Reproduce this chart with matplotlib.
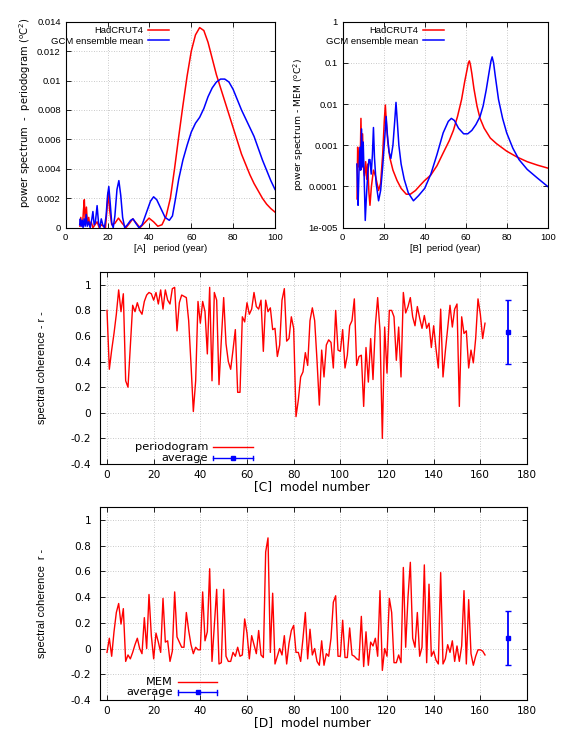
import numpy as np
import matplotlib
matplotlib.use("Agg")
import matplotlib.pyplot as plt
from matplotlib.ticker import FixedLocator, FuncFormatter, NullLocator

# ---- data ----
# [A] periodogram, period (year) vs power
hadcrut_pg_period = [6.8, 7.2, 7.6, 8.0, 8.5, 8.9, 9.3, 9.9, 10.4, 11.0, 11.5, 12.2, 13.0, 14.0,
                     15.0, 16.0, 17.0, 18.0, 19.0, 19.7, 20.3, 21.0, 22.0, 23.5, 25.2, 27.0,
                     28.8, 30.5, 32.0, 33.8, 35.5, 37.5, 39.8, 42.0, 44.0, 46.0, 48.0, 50.0,
                     52.0, 54.0, 56.0, 58.0, 60.0, 62.0, 64.0, 66.0, 68.0, 70.0, 72.0, 74.0,
                     76.0, 78.0, 80.0, 82.0, 84.0, 86.0, 88.0, 90.0, 92.0, 94.0, 96.0, 98.0, 100.0]
hadcrut_pg_power = [0.0001, 0.0007, 0.0002, 0.0001, 0.0012, 0.0019, 0.0004, 0.0014, 0.0002, 0.0007,
                    0.0001, 0.0004, 0.0000, 0.0002, 0.0004, 0.0000, 0.0002, 0.0001, 0.0000, 0.0012,
                    0.0024, 0.0012, 0.0002, 0.0003, 0.00065, 0.0003, 0.0000, 0.0003, 0.0006, 0.0003,
                    0.0000, 0.0003, 0.00065, 0.0004, 0.0001, 0.0002, 0.0008, 0.0020, 0.0040, 0.0062,
                    0.0083, 0.0103, 0.0120, 0.0131, 0.0136, 0.0134, 0.0126, 0.0115, 0.0104, 0.0095,
                    0.0086, 0.0077, 0.0068, 0.0059, 0.0050, 0.0043, 0.0036, 0.0030, 0.0025, 0.0020,
                    0.0016, 0.0013, 0.00106]
gcm_pg_period = [6.7, 7.0, 7.4, 7.9, 8.3, 8.8, 9.3, 9.8, 10.3, 11.0, 11.7, 12.5, 13.0, 13.6, 14.2,
                 15.0, 15.7, 16.3, 17.0, 17.7, 18.5, 19.3, 20.0, 20.6, 21.3, 22.0, 22.7, 23.5,
                 24.5, 25.4, 26.3, 27.2, 28.2, 29.5, 31.0, 32.2, 33.5, 35.0, 36.5, 38.5, 40.5,
                 42.0, 43.5, 45.5, 47.5, 49.5, 51.0, 52.5, 54.0, 56.0, 58.0, 60.0, 62.0, 64.0,
                 66.0, 68.0, 70.0, 72.0, 74.0, 76.0, 78.0, 80.0, 82.0, 84.0, 86.0, 88.0, 90.0,
                 92.0, 94.0, 96.0, 98.0, 100.0]
gcm_pg_power = [0.0002, 0.0006, 0.0001, 0.0005, 0.0000, 0.0006, 0.0001, 0.0009, 0.0001, 0.0004,
                0.0000, 0.0006, 0.0011, 0.0002, 0.0004, 0.0015, 0.0003, 0.0000, 0.0006, 0.0002,
                0.0000, 0.0008, 0.0022, 0.0028, 0.0016, 0.0003, 0.0000, 0.0008, 0.0026, 0.0032,
                0.0022, 0.0007, 0.0000, 0.0002, 0.0005, 0.0006, 0.0003, 0.0000, 0.0002, 0.0010,
                0.0018, 0.0021, 0.0019, 0.0013, 0.0007, 0.0005, 0.0008, 0.0020, 0.0033, 0.0046,
                0.0056, 0.0065, 0.0071, 0.0075, 0.0081, 0.0089, 0.0095, 0.0099, 0.0101, 0.0101,
                0.0099, 0.0094, 0.0087, 0.0080, 0.0074, 0.0068, 0.0062, 0.0054, 0.0046, 0.0039,
                0.0032, 0.0026]

# [B] maximum entropy method spectrum
hadcrut_mem_period = [7.0, 7.3, 7.7, 8.1, 8.5, 8.9, 9.3, 9.7, 10.1, 10.6, 11.2, 11.7, 12.2, 12.8,
                      13.3, 14.0, 15.0, 16.0, 17.5, 18.5, 19.5, 20.3, 20.8, 21.3, 22.0, 23.0,
                      24.5, 26.5, 28.5, 31.0, 33.0, 35.5, 38.0, 40.0, 43.0, 46.0, 49.0, 52.0,
                      54.0, 56.0, 58.0, 59.5, 60.7, 61.3, 61.8, 62.3, 63.0, 64.0, 65.5, 67.0,
                      69.0, 72.0, 75.0, 80.0, 85.0, 90.0, 95.0, 100.0]
hadcrut_mem_power = [5.0e-5, 9.0e-4, 3.0e-4, 7.0e-4, 2.5e-4, 4.5e-3, 3.0e-4, 1.9e-3, 3.0e-4, 1.8e-4,
                     4.0e-4, 1.5e-4, 3.5e-4, 7.0e-5, 3.5e-5, 1.0e-4, 2.5e-4, 1.8e-4, 8.0e-5, 1.2e-4,
                     6.0e-4, 4.0e-3, 9.5e-3, 3.5e-3, 1.2e-3, 5.0e-4, 2.5e-4, 1.4e-4, 9.0e-5, 6.5e-5,
                     6.5e-5, 8.0e-5, 1.1e-4, 1.4e-4, 1.9e-4, 3.2e-4, 6.5e-4, 1.3e-3, 2.3e-3, 5.0e-3,
                     1.3e-2, 3.5e-2, 7.0e-2, 1.0e-1, 1.12e-1, 9.0e-2, 5.5e-2, 2.4e-2, 9.0e-3, 4.5e-3,
                     2.6e-3, 1.5e-3, 1.1e-3, 7.2e-4, 5.2e-4, 4.0e-4, 3.3e-4, 2.8e-4]
gcm_mem_period = [6.9, 7.2, 7.5, 7.9, 8.4, 8.8, 9.2, 9.6, 10.0, 10.5, 11.0, 11.5, 12.2, 12.8, 13.3,
                  13.9, 14.5, 15.0, 15.5, 16.3, 17.5, 18.5, 19.5, 20.5, 21.2, 21.8, 22.6, 23.5,
                  24.5, 25.4, 26.0, 26.6, 27.4, 28.5, 30.0, 32.0, 34.5, 37.0, 40.0, 43.0, 46.0,
                  49.0, 51.5, 53.0, 54.5, 56.5, 59.0, 61.0, 63.0, 65.0, 67.0, 68.5, 70.0, 71.3,
                  72.3, 72.9, 73.6, 74.5, 76.0, 78.0, 80.0, 83.0, 86.0, 90.0, 95.0, 100.0]
gcm_mem_power = [3.5e-4, 1.0e-4, 3.5e-5, 2.0e-4, 9.0e-4, 2.5e-4, 2.5e-3, 3.0e-4, 1.2e-3, 1.5e-4,
                 1.5e-5, 5.0e-5, 2.0e-4, 4.5e-4, 4.5e-4, 2.0e-4, 6.0e-4, 2.7e-3, 5.0e-4, 1.2e-4,
                 4.5e-5, 8.0e-5, 3.0e-4, 1.5e-3, 5.0e-3, 1.8e-3, 7.0e-4, 4.8e-4, 1.0e-3, 4.0e-3,
                 1.1e-2, 4.0e-3, 1.0e-3, 3.5e-4, 1.5e-4, 7.0e-5, 4.5e-5, 6.0e-5, 9.0e-5, 2.0e-4,
                 6.0e-4, 2.0e-3, 3.8e-3, 4.5e-3, 4.0e-3, 2.6e-3, 1.9e-3, 1.9e-3, 2.3e-3, 3.2e-3,
                 5.0e-3, 9.0e-3, 2.2e-2, 5.5e-2, 1.1e-1, 1.4e-1, 1.0e-1, 4.5e-2, 1.3e-2, 4.5e-3,
                 2.0e-3, 8.5e-4, 4.5e-4, 2.6e-4, 1.6e-4, 1.0e-4]

# [C] spectral coherence per model (periodogram), [D] same for MEM
coh_periodogram = [
    0.80, 0.34, 0.49, 0.62, 0.77, 0.96, 0.79, 0.93, 0.25, 0.20,
    0.52, 0.84, 0.79, 0.86, 0.80, 0.77, 0.87, 0.92, 0.94, 0.93,
    0.88, 0.94, 0.85, 0.96, 0.81, 0.96, 0.88, 0.85, 0.97, 0.98,
    0.64, 0.86, 0.92, 0.91, 0.90, 0.72, 0.38, 0.01, 0.25, 0.87,
    0.70, 0.87, 0.79, 0.46, 0.98, 0.25, 0.94, 0.88, 0.22, 0.57,
    0.90, 0.54, 0.40, 0.34, 0.49, 0.65, 0.16, 0.16, 0.75, 0.71,
    0.86, 0.77, 0.81, 0.94, 0.83, 0.81, 0.88, 0.48, 0.88, 0.79,
    0.82, 0.65, 0.66, 0.44, 0.53, 0.88, 0.97, 0.56, 0.58, 0.75,
    0.66, -0.03, 0.10, 0.28, 0.32, 0.47, 0.37, 0.72, 0.82, 0.72,
    0.41, 0.06, 0.49, 0.28, 0.53, 0.57, 0.55, 0.35, 0.80, 0.49,
    0.48, 0.65, 0.35, 0.45, 0.68, 0.72, 0.89, 0.37, 0.44, 0.45,
    0.05, 0.51, 0.24, 0.58, 0.26, 0.68, 0.90, 0.64, -0.20, 0.67,
    0.31, 0.80, 0.80, 0.75, 0.41, 0.67, 0.28, 0.94, 0.78, 0.83,
    0.90, 0.75, 0.68, 0.83, 0.74, 0.66, 0.76, 0.66, 0.70, 0.51,
    0.68, 0.50, 0.35, 0.81, 0.28, 0.48, 0.66, 0.84, 0.67, 0.81,
    0.85, 0.05, 0.75, 0.62, 0.64, 0.35, 0.49, 0.39, 0.58, 0.89,
    0.77, 0.58, 0.70]
coh_mem = [
    -0.03, 0.08, -0.06, 0.13, 0.28, 0.35, 0.19, 0.31, -0.10, -0.05,
    -0.08, -0.03, 0.03, 0.08, 0.00, -0.04, 0.24, 0.00, 0.42, 0.10,
    -0.08, 0.12, 0.05, -0.03, 0.39, 0.05, 0.06, -0.10, -0.02, 0.44,
    0.09, 0.05, 0.01, 0.01, 0.28, 0.14, 0.03, -0.04, 0.01, -0.01,
    -0.01, 0.44, 0.06, 0.13, 0.62, -0.10, 0.18, 0.46, -0.12, -0.11,
    0.46, -0.06, -0.10, -0.10, -0.03, -0.06, 0.01, -0.06, -0.05, 0.23,
    0.12, -0.08, 0.10, 0.03, -0.04, 0.14, -0.05, -0.07, 0.75, 0.86,
    -0.03, 0.43, -0.12, -0.06, 0.00, -0.05, 0.10, -0.12, 0.04, 0.14,
    0.18, -0.03, -0.03, -0.10, 0.08, 0.28, -0.08, 0.15, -0.05, 0.00,
    -0.10, -0.13, 0.06, -0.13, -0.04, -0.06, 0.08, 0.36, 0.41, -0.06,
    -0.06, 0.22, -0.07, -0.07, 0.16, -0.05, -0.06, -0.08, -0.09, 0.25,
    -0.14, 0.13, -0.13, 0.05, 0.02, 0.08, -0.06, 0.45, -0.17, 0.00,
    -0.06, 0.39, 0.28, -0.11, -0.11, -0.05, -0.11, 0.63, 0.01, 0.40,
    0.67, 0.08, 0.01, 0.28, -0.06, 0.01, 0.65, -0.11, 0.50, -0.06,
    -0.02, -0.09, -0.12, 0.59, -0.12, -0.08, 0.03, -0.03, 0.06, -0.10,
    0.02, -0.10, 0.02, 0.45, -0.12, 0.38, -0.04, -0.13, -0.06, -0.01,
    -0.01, -0.02, -0.05]
avg_x = 172
avg_pg, err_pg = 0.63, 0.25
avg_mem, err_mem = 0.08, 0.21

RED = "#ff0000"
BLUE = "#0000ff"
REG = ["Liberation Sans", "DejaVu Sans"]
WIDE = ["DejaVu Sans"]

plt.rcParams["axes.linewidth"] = 0.8
plt.rcParams["mathtext.default"] = "regular"

fig = plt.figure(figsize=(5.81, 7.52), dpi=100)
W, H = 581.0, 752.0


def px_axes(l, t, r, b):
    return fig.add_axes([l / W, 1 - b / H, (r - l) / W, (b - t) / H])


def style(ax, fam, size):
    ax.tick_params(which="both", direction="in", top=True, right=True, length=3.5, width=0.6)
    ax.grid(True, color="#b8b8b8", linestyle=(0, (1, 2)), linewidth=0.6)
    ax.set_axisbelow(True)
    for lab in ax.get_xticklabels() + ax.get_yticklabels():
        lab.set_family(fam)
        lab.set_size(size)


gfmt = FuncFormatter(lambda v, p: "%g" % v)

# ---- [A] ----
axA = px_axes(65.7, 21.7, 275, 227.7)
axA.plot(hadcrut_pg_period, hadcrut_pg_power, color=RED, lw=1.1, label="HadCRUT4")
axA.plot(gcm_pg_period, gcm_pg_power, color=BLUE, lw=1.1, label="GCM ensemble mean")
axA.set_xlim(0, 100)
axA.set_ylim(0, 0.014)
axA.set_xticks(np.arange(0, 101, 20))
axA.set_yticks(np.arange(0, 0.0141, 0.002))
axA.xaxis.set_major_formatter(gfmt)
axA.yaxis.set_major_formatter(gfmt)
axA.tick_params(axis="both", pad=3.5)
style(axA, REG, 6.8)
axA.set_xlabel("[A]   period (year)", family=REG, fontsize=6.8)
axA.xaxis.set_label_coords(0.5, -0.078)
axA.set_ylabel("power spectrum  -  periodogram ($^{o}$C$^{2}$)", family=WIDE, fontsize=7.2)
axA.yaxis.set_label_coords(-0.155, 0.56)
axA.legend(loc="upper right", bbox_to_anchor=(0.52, 1.005), frameon=False, markerfirst=False,
           prop={"family": REG, "size": 6.8}, handlelength=2.2, labelspacing=0.15,
           borderaxespad=0.2, handletextpad=0.5)

# ---- [B] ----
axB = px_axes(342.7, 21.7, 547.7, 227.7)
axB.plot(hadcrut_mem_period, hadcrut_mem_power, color=RED, lw=1.1, label="HadCRUT4")
axB.plot(gcm_mem_period, gcm_mem_power, color=BLUE, lw=1.1, label="GCM ensemble mean")
axB.set_yscale("log")
axB.set_xlim(0, 100)
axB.set_ylim(1e-5, 1)
axB.set_xticks(np.arange(0, 101, 20))
axB.xaxis.set_major_formatter(gfmt)
axB.yaxis.set_major_locator(FixedLocator([1e-5, 1e-4, 1e-3, 1e-2, 1e-1, 1]))
axB.yaxis.set_minor_locator(NullLocator())
axB.yaxis.set_major_formatter(FuncFormatter(
    lambda v, p: {1e-5: "1e-005", 1e-4: "0.0001", 1e-3: "0.001", 1e-2: "0.01",
                  1e-1: "0.1", 1: "1"}.get(round(v, 6), "")))
axB.tick_params(axis="both", pad=3.5)
style(axB, REG, 6.8)
axB.set_xlabel("[B]  period (year)", family=REG, fontsize=6.8)
axB.xaxis.set_label_coords(0.5, -0.078)
axB.set_ylabel("power spectrum - MEM ($^{o}$C$^{2}$)", family=WIDE, fontsize=6.7)
axB.yaxis.set_label_coords(-0.18, 0.5)
axB.legend(loc="upper right", bbox_to_anchor=(0.52, 1.005), frameon=False, markerfirst=False,
           prop={"family": REG, "size": 6.8}, handlelength=2.2, labelspacing=0.15,
           borderaxespad=0.2, handletextpad=0.5)


# ---- [C] and [D] ----
def coherence_panel(top, bottom, values, avg, err, name, ylabel, leg_y, leg_x0, leg_x1):
    ax = px_axes(100, top, 527, bottom)
    models = np.arange(len(values))
    ax.plot(models, values, color=RED, lw=1.0)
    ax.errorbar([avg_x], [avg], yerr=[err], fmt="s", color=BLUE, ms=2.5, lw=1.3,
                capsize=2.5, capthick=1.0)
    ax.set_xlim(-3, 180)
    ax.set_ylim(-0.4, 1.1)
    ax.set_xticks(np.arange(0, 181, 20))
    ax.set_yticks(np.arange(-0.4, 1.01, 0.2))
    ax.yaxis.set_major_formatter(FuncFormatter(lambda v, p: "%g" % round(v, 2)))
    ax.tick_params(axis="y", pad=6.5)
    ax.tick_params(axis="x", pad=4)
    style(ax, WIDE, 7.6)
    ax.set_xlabel("[%s]  model number" % name, family=WIDE, fontsize=8.8)
    ax.xaxis.set_label_coords(0.497, -0.085)
    ax.set_ylabel(ylabel, family=REG, fontsize=7.8)
    ax.yaxis.set_label_coords(-0.124, 0.5)
    # key (gnuplot-style, text right aligned, sample to the right)
    labels = ["periodogram" if name == "C" else "MEM", "average"]
    tx = leg_x0 - 0.012
    for i, lab in enumerate(labels):
        yy = leg_y[i]
        ax.text(tx, yy, lab, transform=ax.transAxes, ha="right", va="center",
                family=WIDE, fontsize=8.2)
        if i == 0:
            ax.plot([leg_x0, leg_x1], [yy, yy], transform=ax.transAxes, color=RED, lw=1.0,
                    clip_on=False)
        else:
            ax.plot([leg_x0, leg_x1], [yy, yy], transform=ax.transAxes, color=BLUE, lw=1.0,
                    clip_on=False)
            for xx in (leg_x0, leg_x1):
                ax.plot([xx, xx], [yy - 0.012, yy + 0.012], transform=ax.transAxes,
                        color=BLUE, lw=1.0, clip_on=False)
            ax.plot([(leg_x0 + leg_x1) / 2], [yy], "s", transform=ax.transAxes, color=BLUE,
                    ms=2.5, clip_on=False)
    return ax


coherence_panel(272, 464, coh_periodogram, avg_pg, err_pg, "C", "spectral coherence - r -",
                (0.087, 0.032), 0.265, 0.358)
coherence_panel(507, 700, coh_mem, avg_mem, err_mem, "D", "spectral coherence  r -",
                (0.095, 0.040), 0.183, 0.274)

fig.savefig("out.png", dpi=100)
